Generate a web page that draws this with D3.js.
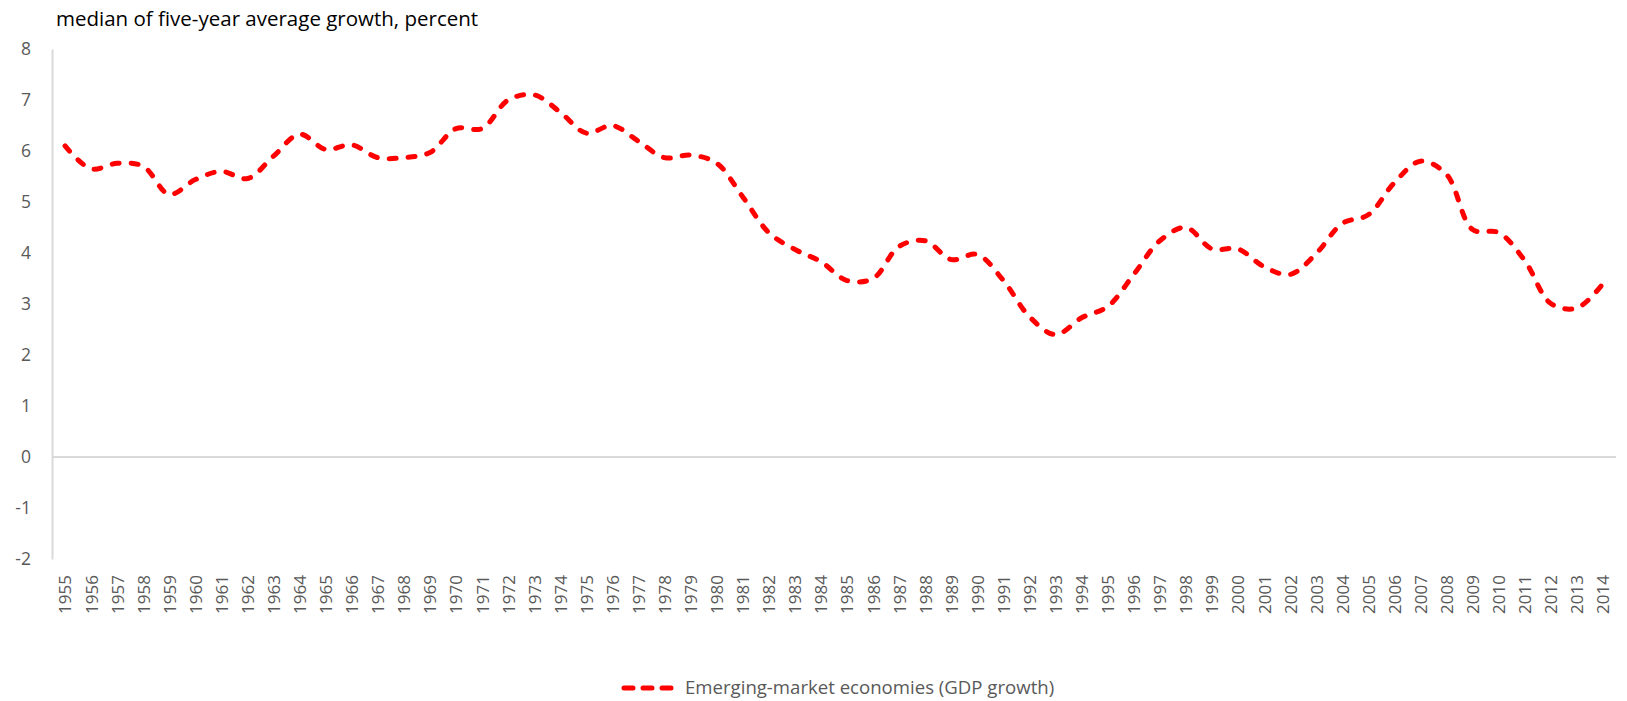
<!DOCTYPE html>
<html>
<head>
<meta charset="utf-8">
<script src="https://cdn.jsdelivr.net/npm/d3@7"></script>
<style>
  body { margin: 0; background: #fff; }
  svg { display: block; font-family: "Open Sans", sans-serif; }
</style>
</head>
<body>
<svg id="chart" width="1627" height="701"></svg>
<script>
// chart data
const years = d3.range(1955, 2015);
const growth = [
  6.1, 5.65, 5.76, 5.7, 5.15, 5.44, 5.6, 5.46, 5.9, 6.33,
  6.03, 6.12, 5.87, 5.87, 5.97, 6.44, 6.44, 7.0, 7.1, 6.76,
  6.35, 6.5, 6.19, 5.87, 5.92, 5.76, 5.1, 4.4, 4.07, 3.83,
  3.46, 3.5, 4.13, 4.24, 3.87, 3.97, 3.46, 2.75, 2.4, 2.73,
  2.95, 3.58, 4.24, 4.5, 4.08, 4.08, 3.73, 3.58, 3.99, 4.58,
  4.75, 5.38, 5.8, 5.54, 4.46, 4.4, 3.85, 3.01, 2.92, 3.4
];
const yTicks = [-2, -1, 0, 1, 2, 3, 4, 5, 6, 7, 8];
const yTitle = "median of five-year average growth, percent";
const seriesName = "Emerging-market economies (GDP growth)";

const data = years.map((yr, i) => ({ year: yr, value: growth[i] }));

const svg = d3.select("#chart");

const x = d3.scalePoint()
  .domain(years)
  .range([52, 1616])
  .padding(0.5);

const y = d3.scaleLinear()
  .domain([-2, 8])
  .range([559, 49]);

// y axis
const yAxis = svg.append("g")
  .attr("transform", "translate(52,0)")
  .call(d3.axisLeft(y).tickValues(yTicks).tickSize(0).tickSizeOuter(0).tickPadding(21).tickFormat(d => String(d)));
yAxis.select(".domain").attr("stroke", "#d9d9d9").attr("stroke-width", 2);
yAxis.selectAll("text")
  .attr("fill", "#595959")
  .style("font-size", "17.5px")
  .style("font-family", "Open Sans");

// zero line
svg.append("line")
  .attr("x1", x.range()[0])
  .attr("x2", x.range()[1])
  .attr("y1", y(0))
  .attr("y2", y(0))
  .attr("stroke", "#d9d9d9")
  .attr("stroke-width", 2);

// x axis labels
const xAxis = svg.append("g")
  .attr("transform", "translate(0,575)")
  .call(d3.axisBottom(x).tickSize(0).tickPadding(0));
xAxis.select(".domain").remove();
xAxis.selectAll("text")
  .attr("transform", "rotate(-90)")
  .attr("text-anchor", "end")
  .attr("x", 0)
  .attr("y", 0)
  .attr("dy", "0.35em")
  .attr("fill", "#595959")
  .style("font-size", "17px")
  .style("font-family", "Open Sans");

// title
svg.append("text")
  .attr("x", 56)
  .attr("y", 26)
  .attr("fill", "#000")
  .style("font-size", "20.5px")
  .text(yTitle);

// line
const line = d3.line()
  .x(d => x(d.year))
  .y(d => y(d.value))
  .curve(d3.curveCatmullRom.alpha(0.5));

svg.append("path")
  .datum(data)
  .attr("d", line)
  .attr("fill", "none")
  .attr("stroke", "#ff0000")
  .attr("stroke-width", 5)
  .attr("stroke-linecap", "round")
  .attr("stroke-dasharray", "7,12");

// legend
svg.append("line")
  .attr("x1", 624)
  .attr("x2", 671)
  .attr("y1", 688)
  .attr("y2", 688)
  .attr("stroke", "#ff0000")
  .attr("stroke-width", 5)
  .attr("stroke-linecap", "round")
  .attr("stroke-dasharray", "9,10");

svg.append("text")
  .attr("x", 685)
  .attr("y", 694)
  .attr("fill", "#595959")
  .style("font-size", "18.6px")
  .text(seriesName);
</script>
</body>
</html>
